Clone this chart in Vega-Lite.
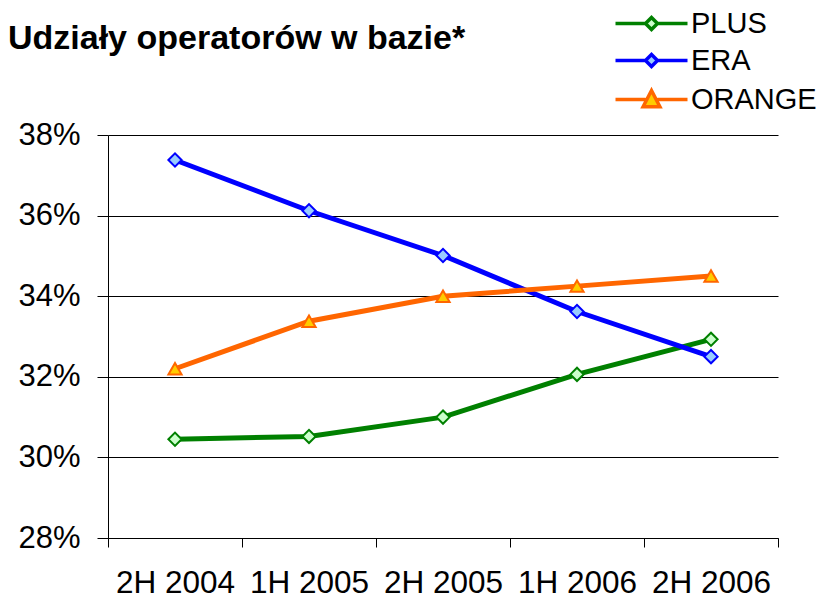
{
  "$schema": "https://vega.github.io/schema/vega-lite/v6.json",
  "autosize": "none",
  "width": 670,
  "height": 403,
  "padding": {"left": 108, "top": 135, "right": 45, "bottom": 60},
  "background": "white",
  "config": {
    "view": {"stroke": null},
    "font": "Liberation Sans"
  },
  "title": {
    "text": "Udziały operatorów w bazie*",
    "anchor": "start",
    "frame": "group",
    "dx": -100,
    "offset": 0,
    "dy": 74,
    "baseline": "alphabetic",
    "font": "Liberation Sans",
    "fontSize": 34,
    "fontWeight": "bold",
    "color": "black"
  },
  "resolve": {"legend": {"stroke": "independent"}},
  "data": {
    "values": [
      {"period": "2H 2004", "series": "PLUS", "share": 30.45},
      {"period": "1H 2005", "series": "PLUS", "share": 30.52},
      {"period": "2H 2005", "series": "PLUS", "share": 31.0},
      {"period": "1H 2006", "series": "PLUS", "share": 32.06},
      {"period": "2H 2006", "series": "PLUS", "share": 32.93},
      {"period": "2H 2004", "series": "ERA", "share": 37.38},
      {"period": "1H 2005", "series": "ERA", "share": 36.12},
      {"period": "2H 2005", "series": "ERA", "share": 35.01},
      {"period": "1H 2006", "series": "ERA", "share": 33.62},
      {"period": "2H 2006", "series": "ERA", "share": 32.5},
      {"period": "2H 2004", "series": "ORANGE", "share": 32.2},
      {"period": "1H 2005", "series": "ORANGE", "share": 33.38},
      {"period": "2H 2005", "series": "ORANGE", "share": 34.0},
      {"period": "1H 2006", "series": "ORANGE", "share": 34.25},
      {"period": "2H 2006", "series": "ORANGE", "share": 34.5}
    ]
  },
  "encoding": {
    "x": {
      "field": "period",
      "type": "nominal",
      "sort": null,
      "scale": {"type": "band", "paddingInner": 0, "paddingOuter": 0},
      "axis": {
        "title": null,
        "labelAngle": 0,
        "labelFont": "Liberation Sans",
        "labelFontSize": 31.5,
        "labelColor": "black",
        "labelPadding": 20,
        "tickBand": "extent",
        "tickSize": 9,
        "tickColor": "black",
        "domainColor": "black",
        "grid": false
      }
    },
    "y": {
      "field": "share",
      "type": "quantitative",
      "scale": {"domain": [28, 38], "nice": false, "zero": false},
      "axis": {
        "title": null,
        "values": [28, 30, 32, 34, 36, 38],
        "labelExpr": "datum.value + '%'",
        "labelFont": "Liberation Sans",
        "labelFontSize": 31,
        "labelColor": "black",
        "labelPadding": 17,
        "tickSize": 11,
        "tickColor": "black",
        "domainColor": "black",
        "grid": true,
        "gridColor": "black",
        "gridOpacity": 1,
        "gridWidth": 1
      }
    }
  },
  "layer": [
    {
      "mark": {"type": "line", "strokeWidth": 5},
      "encoding": {
        "stroke": {
          "field": "series",
          "type": "nominal",
          "scale": {"domain": ["PLUS", "ERA", "ORANGE"], "range": ["#008000", "#0000ff", "#ff6600"]},
          "legend": {
            "title": null,
            "orient": "none",
            "legendX": 529,
            "legendY": -126,
            "padding": 0,
            "symbolType": "M-3,0H-0.5M0.5,0H3M0,-0.5L0.5,0L0,0.5L-0.5,0Z",
            "symbolSize": 576,
            "symbolStrokeWidth": 3.5,
            "labelFont": "Liberation Sans",
            "labelFontSize": 29,
            "labelColor": "black",
            "labelOffset": 25,
            "rowPadding": 7,
            "encode": {
              "symbols": {
                "update": {
                  "fill": {"signal": "datum.value === 'PLUS' ? '#ccffcc' : datum.value === 'ERA' ? '#99ccff' : '#ffcc00'"},
                  "fillOpacity": {"value": 1},
                  "shape": {"signal": "datum.value === 'ORANGE' ? 'M-3,0H-0.5M0.5,0H3M0,-0.75L0.7,0.6L-0.7,0.6Z' : 'M-3,0H-0.5M0.5,0H3M0,-0.5L0.5,0L0,0.5L-0.5,0Z'"}
                }
              }
            }
          }
        }
      }
    },
    {
      "mark": {"type": "point", "filled": true, "strokeWidth": 2, "opacity": 1},
      "encoding": {
        "stroke": {"field": "series", "type": "nominal", "legend": null},
        "fill": {
          "field": "series",
          "type": "nominal",
          "scale": {"domain": ["PLUS", "ERA", "ORANGE"], "range": ["#ccffcc", "#99ccff", "#ffcc00"]},
          "legend": null
        },
        "shape": {
          "field": "series",
          "type": "nominal",
          "scale": {"domain": ["PLUS", "ERA", "ORANGE"], "range": ["diamond", "diamond", "triangle-up"]},
          "legend": null
        },
        "size": {
          "field": "series",
          "type": "nominal",
          "scale": {"domain": ["PLUS", "ERA", "ORANGE"], "range": [175, 175, 225]},
          "legend": null
        }
      }
    }
  ]
}
